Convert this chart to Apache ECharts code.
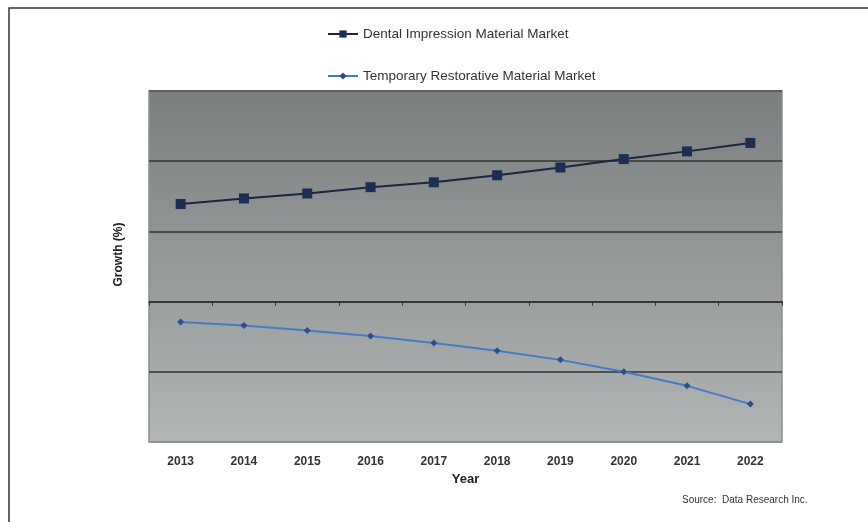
<!DOCTYPE html>
<html>
<head>
<meta charset="utf-8">
<script src="https://cdn.jsdelivr.net/npm/echarts@6/dist/echarts.min.js"></script>
<style>html,body{margin:0;padding:0;background:#fff;}#c{width:868px;height:522px;}</style>
</head>
<body>
<div id="c"></div>
<script>
const years = ['2013','2014','2015','2016','2017','2018','2019','2020','2021','2022'];
const dentalImpression = [1.39, 1.47, 1.54, 1.63, 1.70, 1.80, 1.91, 2.03, 2.14, 2.26];
const temporaryRestorative = [-0.29, -0.34, -0.41, -0.49, -0.59, -0.70, -0.83, -1.00, -1.20, -1.46];

const chart = echarts.init(document.getElementById('c'));
const font = 'Liberation Sans, Arial, sans-serif';
chart.setOption({
  animation: false,
  backgroundColor: '#fff',
  graphic: [
    { type: 'rect', shape: { x: 9, y: 8, width: 900, height: 600 }, style: { fill: 'none', stroke: '#333', lineWidth: 1.5 }, z: -1 },
    { type: 'text', left: 682, top: 495, style: { text: 'Source:  Data Research Inc.', font: '10px ' + font, fill: '#333' } }
  ],
  legend: {
    orient: 'vertical',
    left: 322,
    top: 22,
    itemGap: 28,
    itemWidth: 30,
    itemHeight: 9,
    textStyle: { fontFamily: font, fontSize: 13.5, color: '#333' },
    data: ['Dental Impression Material Market', 'Temporary Restorative Material Market']
  },
  grid: {
    left: 149, right: 86, top: 91, bottom: 80,
    show: true,
    borderColor: '#8c8c8c',
    borderWidth: 1.5,
    backgroundColor: new echarts.graphic.LinearGradient(0, 0, 0, 1, [
      { offset: 0, color: '#7a7e7e' },
      { offset: 1, color: '#b2b5b5' }
    ])
  },
  xAxis: [
    {
      type: 'category',
      data: years,
      boundaryGap: true,
      name: 'Year',
      nameLocation: 'middle',
      nameGap: 31,
      nameTextStyle: { fontFamily: font, fontSize: 13, fontWeight: 'bold', color: '#222' },
      axisLine: { show: false, onZero: false },
      axisTick: { show: false },
      axisLabel: { fontFamily: font, fontSize: 12, fontWeight: 'bold', color: '#333', margin: 14 },
      splitLine: { show: false }
    },
    {
      type: 'category',
      data: years,
      position: 'top',
      boundaryGap: true,
      axisLine: { show: true, onZero: true, lineStyle: { color: '#333', width: 1.5 } },
      axisTick: { show: true, inside: true, length: 4, lineStyle: { color: '#333' } },
      axisLabel: { show: false },
      splitLine: { show: false }
    }
  ],
  yAxis: {
    type: 'value',
    min: -2, max: 3, interval: 1,
    name: 'Growth (%)',
    nameLocation: 'middle',
    nameGap: 24,
    nameRotate: 90,
    nameTextStyle: { fontFamily: font, fontSize: 12, fontWeight: 'bold', color: '#222', padding: [0, 0, 0, 24] },
    axisLine: { show: false },
    axisTick: { show: false },
    axisLabel: { show: false },
    splitLine: { show: true, lineStyle: { color: ['#8c8c8c', '#333', '#333', '#333', '#333', '#4a4a4a'], width: 1.5 } }
  },
  series: [
    {
      name: 'Dental Impression Material Market',
      type: 'line',
      data: dentalImpression,
      symbol: 'rect',
      symbolSize: 10,
      itemStyle: { color: '#1c2f52' },
      lineStyle: { color: '#1a2540', width: 2 }
    },
    {
      name: 'Temporary Restorative Material Market',
      type: 'line',
      data: temporaryRestorative,
      symbol: 'diamond',
      symbolSize: 7,
      itemStyle: { color: '#2d4f8f' },
      lineStyle: { color: '#4a78c8', width: 2 }
    }
  ]
});
</script>
</body>
</html>
